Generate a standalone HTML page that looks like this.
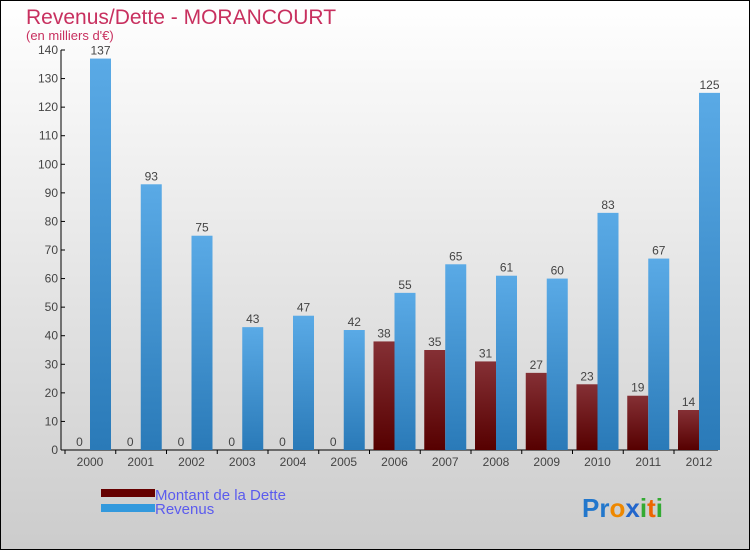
<!DOCTYPE html>
<html><head><meta charset="utf-8"><style>
body{margin:0;width:750px;height:550px;overflow:hidden;font-family:"Liberation Sans",sans-serif}
svg{display:block}
</style></head><body>
<svg width="750" height="550" xmlns="http://www.w3.org/2000/svg">
<defs>
<linearGradient id="bg" x1="0" y1="0" x2="0" y2="1"><stop offset="0" stop-color="#ffffff"/><stop offset="1" stop-color="#cccccc"/></linearGradient>
<linearGradient id="gd" x1="0" y1="0" x2="0" y2="1"><stop offset="0" stop-color="#853035"/><stop offset="1" stop-color="#560000"/></linearGradient>
<linearGradient id="gr" x1="0" y1="0" x2="0" y2="1"><stop offset="0" stop-color="#5aaae6"/><stop offset="1" stop-color="#2a7ab8"/></linearGradient>
</defs>
<rect x="0.5" y="0.5" width="749" height="549" fill="url(#bg)" stroke="#000"/>
<text x="26" y="24" font-size="21" fill="#c8305f">Revenus/Dette - MORANCOURT</text>
<text x="26" y="40" font-size="13" fill="#c8305f">(en milliers d'€)</text>
<g id="axes"></g>
<g id="bars"></g>
<g>
<rect x="101" y="489" width="54" height="8" fill="#660000"/>
<text x="155" y="500" font-size="15" fill="#5b5bee">Montant de la Dette</text>
<rect x="101" y="504" width="54" height="8" fill="#3399dd"/>
<text x="155" y="514" font-size="15" fill="#5b5bee">Revenus</text>
</g>
<text x="582" y="517" font-size="26" font-weight="bold"><tspan fill="#2277cc">Pr</tspan><tspan fill="#ee8800">o</tspan><tspan fill="#2266cc">x</tspan><tspan fill="#33aa33">i</tspan><tspan fill="#ee6600">t</tspan><tspan fill="#33aa33">i</tspan></text>
</svg>
<script>
const years=["2000","2001","2002","2003","2004","2005","2006","2007","2008","2009","2010","2011","2012"];
const dette=[0,0,0,0,0,0,38,35,31,27,23,19,14];
const revenus=[137,93,75,43,47,42,55,65,61,60,83,67,125];
const yTicks=[0,10,20,30,40,50,60,70,80,90,100,110,120,130,140];
const NS="http://www.w3.org/2000/svg";
const y0=450,yTop=50,yMax=140,x0=61,step=50.75,c0=85;
const yS=v=>y0-(v/yMax)*(y0-yTop);
const xC=i=>c0+i*step;
function mk(t,a,p){const e=document.createElementNS(NS,t);for(const k in a)e.setAttribute(k,a[k]);p.appendChild(e);return e;}
const ax=document.getElementById('axes'),bars=document.getElementById('bars');
const yl=mk('line',{x1:x0,y1:yTop,x2:x0,y2:y0,stroke:'#000'},ax);


const xl=mk('line',{x1:x0,y1:y0,x2:718,y2:y0,stroke:'#000'},ax);


yTicks.forEach(v=>{
 const y=yS(v);
 mk('line',{x1:x0,y1:y,x2:x0+4,y2:y,stroke:'#000'},ax);
 const t=mk('text',{x:x0-3,y:y+4,'font-size':12,fill:'#444','text-anchor':'end'},ax);
 t.textContent=v;
 
 
});
years.forEach((yr,i)=>{
 const c=xC(i)+5;
 const t=mk('text',{x:c,y:466,'font-size':12,fill:'#444','text-anchor':'middle'},ax);
 t.textContent=yr;
 
 
 mk('line',{x1:c-25,y1:y0,x2:c-25,y2:y0+4,stroke:'#000'},ax);
 const d=mk('rect',{x:c-21,y:yS(dette[i]),width:21,height:y0-yS(dette[i]),fill:'url(#gd)'},bars);
 
 
 const r=mk('rect',{x:c,y:yS(revenus[i]),width:21,height:y0-yS(revenus[i]),fill:'url(#gr)'},bars);
 
 
 const dl=mk('text',{x:c-10.5,y:yS(dette[i])-4,'font-size':12,fill:'#444','text-anchor':'middle'},bars);
 dl.textContent=dette[i];
 
 
 const rl=mk('text',{x:c+10.5,y:yS(revenus[i])-4,'font-size':12,fill:'#444','text-anchor':'middle'},bars);
 rl.textContent=revenus[i];
 
 
});
</script>
</body></html>
